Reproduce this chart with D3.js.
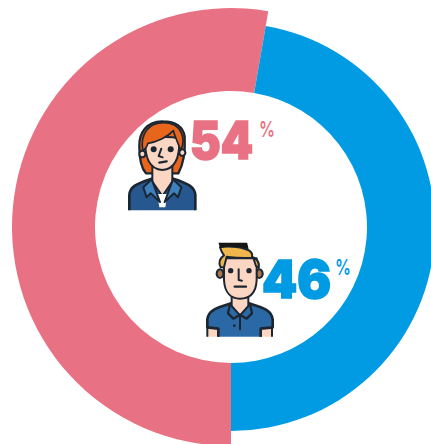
<!DOCTYPE html>
<html>
<head>
<meta charset="utf-8">
<script src="https://cdn.jsdelivr.net/npm/d3@7"></script>
<style>
  html, body { margin: 0; padding: 0; background: #fff; overflow: hidden; }
  svg { display: block; }
  text { font-family: Inter, "Open Sans", sans-serif; }
</style>
</head>
<body>
<div id="chart"></div>
<script>
// printed labels, and the sweep each ring really has in the picture (not quite the label share)
const GROUPS = ['women', 'men'];
const LABELS = [54, 46];
const SWEEPS = [189.8, 170.2];
const OUTER = [219, 204];
const COLORS = ['#e87283', '#019be3'];

const width = 431;
const height = 444;
const cx = 231;
const cy = 227;
const innerRadius = 136;
const OUTLINE = '#1c2833';

const svg = d3.select('#chart').append('svg')
  .attr('width', width)
  .attr('height', height)
  .attr('viewBox', `0 0 ${width} ${height}`);

const defs = svg.append('defs');
defs.append('filter').attr('id', 'soft')
  .append('feGaussianBlur').attr('stdDeviation', 0.7);
defs.append('clipPath').attr('id', 'womanClip')
  .append('rect').attr('x', 0).attr('y', 0).attr('width', 540).attr('height', 331);
defs.append('clipPath').attr('id', 'manClip')
  .append('rect').attr('x', 0).attr('y', 38).attr('width', 540).attr('height', 282);

// pie starts at 6 o'clock and runs clockwise
const pie = d3.pie()
  .sort(null)
  .value((d, i) => SWEEPS[i])
  .startAngle(Math.PI)
  .endAngle(3 * Math.PI);

const ring = svg.append('g').attr('transform', `translate(${cx},${cy})`);
ring.selectAll('path')
  .data(pie(GROUPS))
  .join('path')
  .attr('fill', (d, i) => COLORS[i])
  .attr('d', (d, i) => d3.arc().innerRadius(innerRadius).outerRadius(OUTER[i])(d));

// Icons are traced in 3x crop coordinates, then scaled down
function addPath(g, d, fill, sw = 8) {
  return g.append('path').attr('d', d).attr('fill', fill)
    .attr('stroke', fill === 'none' || sw ? OUTLINE : null)
    .attr('stroke-width', sw)
    .attr('stroke-linejoin', 'round')
    .attr('stroke-linecap', 'round');
}

function drawWoman() {
  const outer = svg.append('g').attr('transform', 'translate(110,100) scale(0.3333)').attr('filter', 'url(#soft)');
  const g = outer.append('g').attr('clip-path', 'url(#womanClip)');
  // back hair
  addPath(g, 'M160,64 C110,62 86,100 88,140 C88,170 90,200 108,220 L205,220 C222,190 226,150 224,110 C220,80 195,64 160,64 Z', '#e8651f', 7);
  // jacket
  addPath(g, 'M58,340 L58,285 C60,262 75,252 125,236 L190,236 C235,250 254,262 256,285 L256,340 Z', '#27598f');
  // neck and shirt
  addPath(g, 'M127,195 L127,245 L157,288 L187,245 L187,195 Z', '#fbd6c3', 6);
  addPath(g, 'M142,282 L172,282 L166,322 L148,322 Z', '#ffffff', 0);
  // collar
  addPath(g, 'M125,238 L100,262 L110,292 L122,280 L150,306 Z', '#3d80bd', 6);
  addPath(g, 'M189,238 L214,262 L204,292 L192,280 L164,306 Z', '#3d80bd', 6);
  // ears
  addPath(g, 'M97,152 a9,10 0 1,0 0.1,0 Z', '#fbd6c3', 6);
  addPath(g, 'M217,148 a9,10 0 1,0 0.1,0 Z', '#fbd6c3', 6);
  // face
  addPath(g, 'M106,120 C104,170 118,208 157,210 C196,208 210,170 208,115 C180,110 140,110 106,120 Z', '#fbd6c3', 6);
  // fringe, swept across from the parting
  addPath(g, 'M160,68 C118,68 90,100 98,150 C106,150 110,142 114,130 C140,126 172,112 190,92 C196,112 204,130 212,150 C228,120 218,68 160,68 Z', '#e8651f', 5);
  // eyes, nose, mouth
  g.append('ellipse').attr('cx', 131).attr('cy', 148).attr('rx', 9).attr('ry', 9).attr('fill', OUTLINE);
  g.append('ellipse').attr('cx', 182).attr('cy', 148).attr('rx', 9).attr('ry', 9).attr('fill', OUTLINE);
  addPath(g, 'M154,146 L146,168 L158,172', 'none', 6);
  addPath(g, 'M148,188 L170,184', 'none', 7);
}

function drawMan() {
  const outer = svg.append('g').attr('transform', 'translate(190,230) scale(0.3333)').attr('filter', 'url(#soft)');
  const g = outer.append('g').attr('clip-path', 'url(#manClip)');
  // arms
  addPath(g, 'M52,340 L52,290 L85,290 L85,340 Z', '#fbd6c3', 6);
  addPath(g, 'M212,340 L212,290 L246,290 L246,340 Z', '#fbd6c3', 6);
  // shirt
  addPath(g, 'M85,340 L85,296 L52,292 L52,268 C56,240 80,234 124,220 L176,220 C220,234 244,240 248,268 L248,292 L212,296 L212,340 Z', '#2c69a6');
  // neck
  addPath(g, 'M125,190 L125,228 L150,256 L175,228 L175,190 Z', '#fbd6c3', 6);
  // collar and placket
  addPath(g, 'M120,222 L114,250 L130,266 L150,254', 'none', 7);
  addPath(g, 'M180,222 L186,250 L170,266 L150,254', 'none', 7);
  addPath(g, 'M150,256 L150,298', 'none', 6);
  g.append('circle').attr('cx', 133).attr('cy', 287).attr('r', 4).attr('fill', OUTLINE);
  // ears
  addPath(g, 'M90,118 a10,13 0 1,0 0.1,0 Z', '#a8764d', 6);
  addPath(g, 'M208,118 a10,13 0 1,0 0.1,0 Z', '#a8764d', 6);
  // face
  addPath(g, 'M102,85 L102,150 C104,190 125,206 150,206 C178,206 198,190 200,150 L200,85 Z', '#fbd6c3', 6);
  // hair
  addPath(g, 'M90,52 C120,46 160,52 178,62 C186,68 188,74 186,80 C198,84 210,96 206,114 L198,108 L190,84 C160,84 130,84 110,80 L102,112 L92,112 C84,96 90,84 102,76 C96,68 92,60 90,52 Z', '#eeb64c', 6);
  g.append('path').attr('d', 'M85,36 L171,36 L176,58 C150,50 115,46 90,54 Z').attr('fill', '#151515');
  // eyes, nose, mouth
  g.append('circle').attr('cx', 122).attr('cy', 122).attr('r', 8).attr('fill', OUTLINE);
  g.append('circle').attr('cx', 177).attr('cy', 122).attr('r', 8).attr('fill', OUTLINE);
  addPath(g, 'M146,118 L146,150 L156,152', 'none', 6);
  addPath(g, 'M134,170 L168,170', 'none', 7);
}

drawWoman();
drawMan();

const labelPos = [[190, 159], [262, 298]];
const labelWidth = [63, 69];
const pctPos = [[259, 137], [335, 275]];

svg.selectAll('text.value')
  .data(LABELS)
  .join('text')
  .attr('class', 'value')
  .attr('x', (d, i) => labelPos[i][0])
  .attr('y', (d, i) => labelPos[i][1])
  .attr('fill', (d, i) => COLORS[i])
  .attr('stroke', (d, i) => COLORS[i])
  .attr('stroke-width', 1.6)
  .attr('font-size', 52)
  .attr('font-weight', 900)
  .attr('textLength', (d, i) => labelWidth[i])
  .attr('lengthAdjust', 'spacingAndGlyphs')
  .text(d => d);

svg.selectAll('text.pct')
  .data(LABELS)
  .join('text')
  .attr('class', 'pct')
  .attr('x', (d, i) => pctPos[i][0])
  .attr('y', (d, i) => pctPos[i][1])
  .attr('fill', (d, i) => COLORS[i])
  .attr('font-size', 22)
  .attr('font-weight', 600)
  .attr('textLength', 16)
  .attr('lengthAdjust', 'spacingAndGlyphs')
  .text('%');
</script>
</body>
</html>
